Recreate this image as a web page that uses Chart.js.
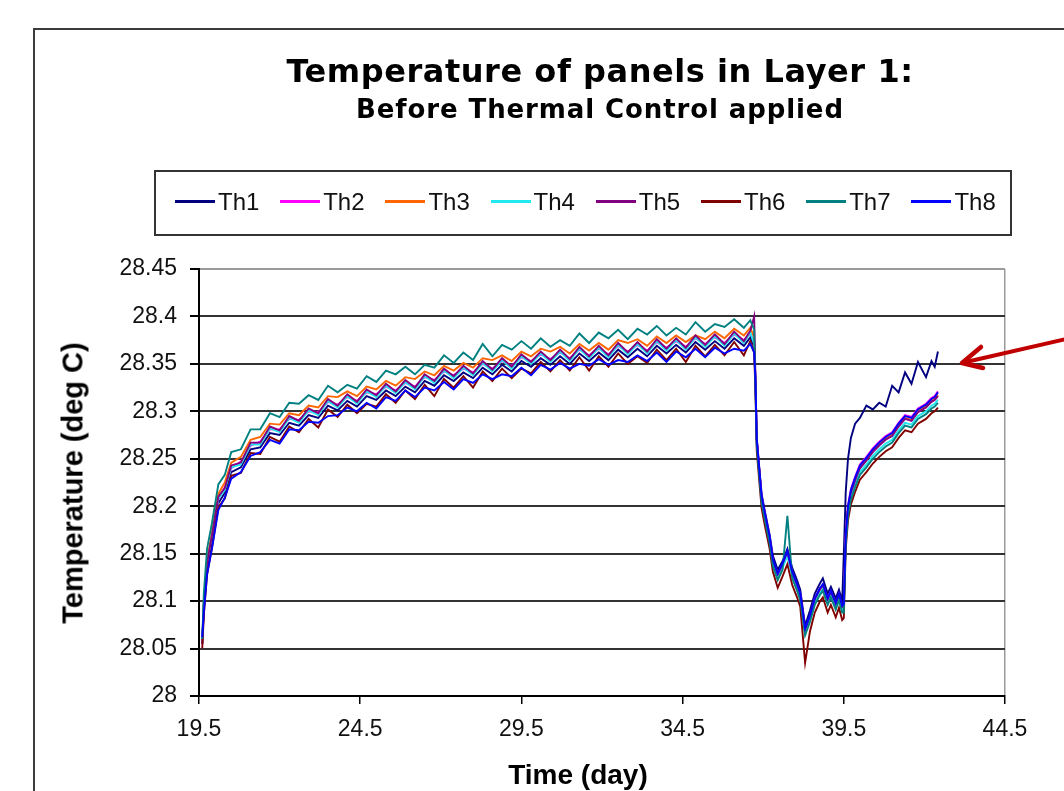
<!DOCTYPE html>
<html>
<head>
<meta charset="utf-8">
<title>Temperature of panels in Layer 1</title>
<script src="https://cdn.jsdelivr.net/npm/chart.js@4.4.1/dist/chart.umd.min.js"></script>
<style>
  html, body { margin: 0; padding: 0; background: #fff; width: 1064px; height: 791px; overflow: hidden; }
  #frame { position: absolute; left: 33px; top: 28px; width: 1100px; height: 900px; border: 2px solid #3c3c3c; }
  #chart { position: absolute; left: 0; top: 0; }
  .ttl { position: absolute; left: 0; width: 1200px; text-align: center; white-space: nowrap;
         font-family: "DejaVu Sans", sans-serif; font-weight: bold; color: #000; }
  #t1 { top: 55px; font-size: 32px; line-height: 32px; letter-spacing: 0.55px; }
  #t2 { top: 96px; font-size: 26px; line-height: 26px; letter-spacing: 0.9px; }
  #legendBox { position: absolute; left: 154px; top: 170px; width: 858px; height: 66px;
               border: 2px solid #333; box-sizing: border-box; }
  .lg-line { position: absolute; height: 3px; width: 40px; }
  .lg-text { position: absolute; font-family: "Liberation Sans", Arial, sans-serif; font-size: 24px;
             line-height: 24px; color: #111; white-space: nowrap; }
  .axt { position: absolute; font-family: "Liberation Sans", Arial, sans-serif; font-weight: bold;
         color: #000; white-space: nowrap; }
  #ytitle { left: 73px; top: 483px; font-size: 29px; transform: translate(-50%, -50%) rotate(-90deg); }
  #xtitle { left: 578px; top: 775px; font-size: 28px; transform: translate(-50%, -50%); }
  #arrow { position: absolute; left: 0; top: 0; }
</style>
</head>
<body>
<div id="frame"></div>
<canvas id="chart" width="1064" height="791"></canvas>
<div class="ttl" id="t1">Temperature of panels in Layer 1:</div>
<div class="ttl" id="t2">Before Thermal Control applied</div>
<div id="legendBox"></div>
<div class="axt" id="ytitle">Temperature (deg C)</div>
<div class="axt" id="xtitle">Time (day)</div>
<svg id="arrow" width="1064" height="791">
  <line x1="1066" y1="339" x2="966" y2="362" stroke="#c00000" stroke-width="4" stroke-linecap="round"/>
  <polyline points="981,347 962,363 983,368" fill="none" stroke="#c00000" stroke-width="4.5" stroke-linecap="round" stroke-linejoin="round"/>
</svg>

<script>
// ---- data ----
const timeDays = [
  19.60, 19.65, 19.75, 19.90, 20.10, 20.30, 20.50, 20.80, 21.10, 21.40,
  21.70, 22.00, 22.30, 22.60, 22.90, 23.20, 23.50, 23.80, 24.10, 24.40,
  24.70, 25.00, 25.30, 25.60, 25.90, 26.20, 26.50, 26.80, 27.10, 27.40,
  27.70, 28.00, 28.30, 28.60, 28.90, 29.20, 29.50, 29.80, 30.10, 30.40,
  30.70, 31.00, 31.30, 31.60, 31.90, 32.20, 32.50, 32.80, 33.10, 33.40,
  33.70, 34.00, 34.30, 34.60, 34.90, 35.20, 35.50, 35.80, 36.10, 36.40,
  36.60, 36.72,
  36.76, 36.80, 36.88, 36.95, 37.05, 37.20, 37.30, 37.45, 37.60, 37.75,
  37.90, 38.05, 38.15, 38.30, 38.45, 38.60, 38.75, 38.85, 39.00, 39.10,
  39.25, 39.35, 39.45,
  39.50, 39.56, 39.63, 39.72, 39.85, 40.00, 40.20, 40.40, 40.60, 40.80,
  41.00, 41.20, 41.40, 41.60, 41.80, 42.05, 42.22, 42.32, 42.42
];

const th1 = [
  28.055, 28.092, 28.134, 28.162, 28.203, 28.214, 28.236, 28.241, 28.260, 28.262,
  28.277, 28.275, 28.288, 28.285, 28.296, 28.293, 28.306, 28.301, 28.311, 28.305,
  28.316, 28.312, 28.322, 28.316, 28.326, 28.320, 28.332, 28.327, 28.338, 28.332,
  28.341, 28.335, 28.346, 28.339, 28.349, 28.342, 28.353, 28.347, 28.356, 28.349,
  28.358, 28.350, 28.361, 28.353, 28.362, 28.354, 28.365, 28.357, 28.366, 28.358,
  28.369, 28.361, 28.370, 28.362, 28.373, 28.365, 28.374, 28.366, 28.377, 28.369,
  28.378, 28.368,
  28.335, 28.272, 28.240, 28.213, 28.195, 28.170, 28.148, 28.133, 28.142, 28.155,
  28.135, 28.122, 28.112, 28.074, 28.090, 28.108, 28.118, 28.124, 28.108, 28.115,
  28.103, 28.112, 28.100,
  28.150, 28.215, 28.250, 28.272, 28.287, 28.293, 28.306, 28.302, 28.309, 28.305,
  28.327, 28.320, 28.341, 28.329, 28.352, 28.336, 28.353, 28.347, 28.363
];
const th2 = [
  28.055, 28.097, 28.139, 28.168, 28.207, 28.220, 28.240, 28.247, 28.264, 28.268,
  28.281, 28.281, 28.292, 28.291, 28.300, 28.299, 28.310, 28.307, 28.315, 28.311,
  28.320, 28.318, 28.326, 28.322, 28.330, 28.326, 28.336, 28.333, 28.342, 28.338,
  28.345, 28.341, 28.350, 28.345, 28.353, 28.348, 28.357, 28.353, 28.360, 28.355,
  28.362, 28.356, 28.365, 28.359, 28.366, 28.360, 28.369, 28.363, 28.370, 28.364,
  28.373, 28.367, 28.374, 28.368, 28.377, 28.371, 28.378, 28.372, 28.381, 28.375,
  28.382, 28.374,
  28.332, 28.270, 28.238, 28.210, 28.192, 28.167, 28.143, 28.128, 28.139, 28.152,
  28.130, 28.117, 28.107, 28.070, 28.084, 28.103, 28.113, 28.117, 28.102, 28.110,
  28.097, 28.107, 28.094,
  28.096, 28.171, 28.201, 28.218, 28.231, 28.244, 28.252, 28.261, 28.268, 28.274,
  28.278, 28.288, 28.296, 28.294, 28.303, 28.308, 28.314, 28.316, 28.321
];
const th3 = [
  28.057, 28.100, 28.143, 28.172, 28.213, 28.225, 28.246, 28.252, 28.270, 28.273,
  28.287, 28.286, 28.298, 28.296, 28.306, 28.304, 28.316, 28.315, 28.321, 28.316,
  28.326, 28.323, 28.332, 28.327, 28.336, 28.334, 28.342, 28.338, 28.348, 28.343,
  28.351, 28.346, 28.356, 28.354, 28.359, 28.353, 28.363, 28.358, 28.366, 28.363,
  28.368, 28.361, 28.371, 28.364, 28.372, 28.365, 28.375, 28.372, 28.376, 28.369,
  28.379, 28.372, 28.380, 28.373, 28.380, 28.376, 28.384, 28.377, 28.387, 28.380,
  28.388, 28.378,
  28.331, 28.268, 28.236, 28.208, 28.190, 28.165, 28.141, 28.126, 28.137, 28.150,
  28.128, 28.115, 28.105, 28.068, 28.082, 28.100, 28.110, 28.115, 28.100, 28.108,
  28.095, 28.105, 28.092,
  28.095, 28.168, 28.198, 28.215, 28.228, 28.241, 28.249, 28.258, 28.265, 28.271,
  28.275, 28.285, 28.293, 28.291, 28.300, 28.305, 28.311, 28.313, 28.317
];
const th4 = [
  28.056, 28.096, 28.140, 28.167, 28.208, 28.217, 28.241, 28.244, 28.265, 28.265,
  28.282, 28.278, 28.293, 28.288, 28.301, 28.296, 28.311, 28.304, 28.316, 28.308,
  28.321, 28.315, 28.327, 28.319, 28.331, 28.323, 28.337, 28.330, 28.343, 28.335,
  28.346, 28.338, 28.351, 28.342, 28.354, 28.345, 28.358, 28.350, 28.361, 28.352,
  28.363, 28.353, 28.366, 28.356, 28.367, 28.357, 28.370, 28.360, 28.371, 28.361,
  28.374, 28.364, 28.375, 28.365, 28.378, 28.368, 28.379, 28.369, 28.382, 28.372,
  28.383, 28.371,
  28.328, 28.266, 28.234, 28.206, 28.188, 28.163, 28.139, 28.124, 28.135, 28.148,
  28.126, 28.113, 28.103, 28.066, 28.080, 28.098, 28.108, 28.113, 28.098, 28.106,
  28.093, 28.103, 28.090,
  28.092, 28.163, 28.193, 28.210, 28.223, 28.236, 28.244, 28.253, 28.260, 28.266,
  28.270, 28.280, 28.288, 28.286, 28.295, 28.300, 28.306, 28.308, 28.312
];
const th5 = [
  28.055, 28.097, 28.140, 28.169, 28.210, 28.219, 28.243, 28.246, 28.267, 28.267,
  28.284, 28.280, 28.295, 28.290, 28.303, 28.298, 28.313, 28.306, 28.318, 28.310,
  28.323, 28.317, 28.329, 28.321, 28.333, 28.325, 28.339, 28.332, 28.345, 28.337,
  28.348, 28.340, 28.353, 28.344, 28.356, 28.347, 28.360, 28.352, 28.363, 28.354,
  28.365, 28.355, 28.368, 28.358, 28.369, 28.359, 28.372, 28.362, 28.373, 28.363,
  28.376, 28.366, 28.377, 28.367, 28.380, 28.370, 28.381, 28.371, 28.384, 28.374,
  28.385, 28.400,
  28.335, 28.270, 28.238, 28.210, 28.192, 28.167, 28.143, 28.128, 28.139, 28.152,
  28.130, 28.117, 28.107, 28.070, 28.084, 28.102, 28.112, 28.117, 28.102, 28.110,
  28.097, 28.107, 28.094,
  28.096, 28.167, 28.197, 28.214, 28.227, 28.240, 28.248, 28.257, 28.264, 28.270,
  28.274, 28.284, 28.292, 28.290, 28.299, 28.304, 28.310, 28.312, 28.316
];
const th6 = [
  28.050, 28.085, 28.128, 28.156, 28.199, 28.208, 28.232, 28.235, 28.256, 28.255,
  28.273, 28.268, 28.284, 28.278, 28.292, 28.283, 28.302, 28.294, 28.307, 28.298,
  28.308, 28.305, 28.318, 28.309, 28.322, 28.313, 28.328, 28.316, 28.334, 28.325,
  28.337, 28.325, 28.342, 28.332, 28.345, 28.335, 28.345, 28.340, 28.352, 28.342,
  28.354, 28.343, 28.357, 28.343, 28.358, 28.347, 28.361, 28.350, 28.358, 28.351,
  28.365, 28.354, 28.366, 28.352, 28.369, 28.358, 28.370, 28.359, 28.373, 28.359,
  28.374, 28.362,
  28.320, 28.258, 28.226, 28.198, 28.180, 28.155, 28.131, 28.114, 28.126, 28.139,
  28.117, 28.104, 28.094, 28.035, 28.068, 28.088, 28.099, 28.104, 28.088, 28.096,
  28.083, 28.093, 28.080,
  28.082, 28.155, 28.185, 28.202, 28.215, 28.228, 28.236, 28.245, 28.252, 28.258,
  28.262, 28.272, 28.280, 28.278, 28.287, 28.292, 28.298, 28.300, 28.304
];
const th7 = [
  28.060, 28.108, 28.155, 28.182, 28.223, 28.233, 28.257, 28.260, 28.281, 28.281,
  28.298, 28.294, 28.309, 28.308, 28.317, 28.312, 28.327, 28.320, 28.328, 28.324,
  28.337, 28.331, 28.343, 28.339, 28.347, 28.339, 28.349, 28.346, 28.359, 28.351,
  28.362, 28.354, 28.371, 28.358, 28.370, 28.365, 28.374, 28.366, 28.377, 28.368,
  28.375, 28.369, 28.382, 28.372, 28.383, 28.377, 28.386, 28.376, 28.387, 28.381,
  28.390, 28.380, 28.388, 28.381, 28.394, 28.384, 28.392, 28.389, 28.397, 28.388,
  28.396, 28.386,
  28.326, 28.264, 28.232, 28.204, 28.186, 28.161, 28.137, 28.122, 28.133, 28.190,
  28.124, 28.111, 28.101, 28.064, 28.078, 28.096, 28.106, 28.111, 28.096, 28.104,
  28.091, 28.101, 28.088,
  28.088, 28.160, 28.190, 28.207, 28.220, 28.233, 28.241, 28.250, 28.257, 28.263,
  28.267, 28.277, 28.285, 28.283, 28.292, 28.297, 28.303, 28.305, 28.309
];
const th8 = [
  28.062, 28.088, 28.128, 28.155, 28.196, 28.209, 28.229, 28.236, 28.253, 28.257,
  28.270, 28.266, 28.281, 28.280, 28.289, 28.288, 28.295, 28.296, 28.304, 28.300,
  28.309, 28.303, 28.315, 28.311, 28.322, 28.315, 28.325, 28.322, 28.331, 28.323,
  28.334, 28.330, 28.339, 28.334, 28.339, 28.337, 28.346, 28.338, 28.349, 28.344,
  28.351, 28.345, 28.350, 28.348, 28.355, 28.349, 28.354, 28.352, 28.359, 28.353,
  28.362, 28.352, 28.363, 28.357, 28.366, 28.357, 28.367, 28.361, 28.366, 28.364,
  28.371, 28.362,
  28.333, 28.271, 28.239, 28.211, 28.193, 28.168, 28.144, 28.129, 28.140, 28.153,
  28.131, 28.118, 28.108, 28.071, 28.085, 28.103, 28.113, 28.118, 28.103, 28.111,
  28.098, 28.108, 28.095,
  28.097, 28.170, 28.200, 28.217, 28.230, 28.243, 28.251, 28.260, 28.267, 28.273,
  28.277, 28.287, 28.295, 28.293, 28.302, 28.307, 28.313, 28.315, 28.320
];

const seriesNames = ['Th1', 'Th2', 'Th3', 'Th4', 'Th5', 'Th6', 'Th7', 'Th8'];
const seriesValues = [th1, th2, th3, th4, th5, th6, th7, th8];
const seriesColors = ['#000080', '#ff00ff', '#ff6600', '#22e8f0', '#800080', '#800000', '#008080', '#0000ff'];

const xTickValues = [19.5, 24.5, 29.5, 34.5, 39.5, 44.5];
const yTickValues = [28, 28.05, 28.1, 28.15, 28.2, 28.25, 28.3, 28.35, 28.4, 28.45];

// ---- legend (html, boxed like the original) ----
const legendBox = document.getElementById('legendBox');
seriesNames.forEach(function(name, i) {
    const left = 19 + i * 105.2;
    const line = document.createElement('div');
    line.className = 'lg-line';
    line.style.left = left + 'px';
    line.style.top = '28px';
    line.style.background = seriesColors[i];
    legendBox.appendChild(line);
    const txt = document.createElement('div');
    txt.className = 'lg-text';
    txt.style.left = (left + 43) + 'px';
    txt.style.top = '18px';
    txt.textContent = name;
    legendBox.appendChild(txt);
});

// ---- chart ----
const datasets = seriesNames.map(function(name, i) {
    return {
        label: name,
        data: timeDays.map(function(t, k) { return { x: t, y: seriesValues[i][k] }; }),
        borderColor: seriesColors[i],
        backgroundColor: seriesColors[i],
        borderWidth: 1.9,
        pointRadius: 0,
        fill: false,
        tension: 0,
        order: seriesNames.length - i
    };
});

const tickFont = { family: '"Liberation Sans", Arial, sans-serif', size: 23 };

new Chart(document.getElementById('chart'), {
    type: 'line',
    data: { datasets: datasets },
    options: {
        responsive: false,
        animation: false,
        layout: { padding: { left: 100, right: 59, top: 269, bottom: 35 } },
        plugins: {
            legend: { display: false },
            tooltip: { enabled: false }
        },
        scales: {
            x: {
                type: 'linear',
                min: 19.5,
                max: 44.5,
                afterBuildTicks: function(s) { s.ticks = xTickValues.map(function(v) { return { value: v }; }); },
                afterFit: function(s) { s.height = 60; },
                border: { display: true, color: '#000', width: 2 },
                grid: {
                    color: function(c) { return c.tick && c.tick.value === 44.5 ? '#9a9a9a' : 'rgba(0,0,0,0)'; },
                    lineWidth: 1.5,
                    tickColor: '#000',
                    tickLength: 8
                },
                ticks: {
                    color: '#111',
                    font: tickFont,
                    padding: 12,
                    maxRotation: 0,
                    callback: function(v) { return Number(v).toFixed(1); }
                }
            },
            y: {
                min: 28,
                max: 28.45,
                afterBuildTicks: function(s) { s.ticks = yTickValues.map(function(v) { return { value: v }; }); },
                afterFit: function(s) { s.width = 99; },
                border: { display: true, color: '#000', width: 2 },
                grid: {
                    color: function(c) {
                        if (!c.tick) return '#333';
                        if (c.tick.value === 28.45) return '#9a9a9a';
                        return '#333';
                    },
                    lineWidth: 2,
                    tickColor: '#000',
                    tickLength: 9
                },
                ticks: {
                    color: '#111',
                    font: tickFont,
                    padding: 13,
                    callback: function(v) { return String(Number(Number(v).toFixed(2))); }
                }
            }
        }
    }
});
</script>
</body>
</html>
